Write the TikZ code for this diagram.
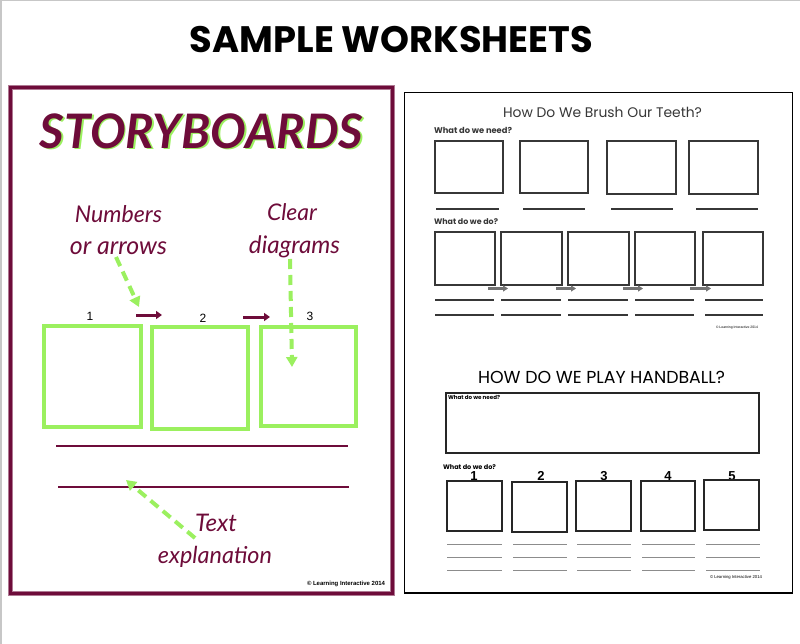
\documentclass[tikz,border=0pt]{standalone}
\usepackage{fontspec}
\usepackage{graphicx}
\setmainfont{Lato}
\newfontfamily\comic{Poppins}
\newfontfamily\hand{Lato}
\newfontfamily\arial{Liberation Sans}
\usetikzlibrary{arrows.meta}
\definecolor{sbmaroon}{RGB}{110,12,58}
\definecolor{sbgreen}{RGB}{155,240,95}
\definecolor{sbgray}{RGB}{55,55,55}
\newcommand{\fw}[2]{\resizebox{#1}{!}{#2}}
\tikzset{
  txt/.style={inner sep=0pt, outer sep=0pt},
  gbox/.style={draw=sbgreen, line width=4.5pt, inner sep=0pt},
  wbox/.style={draw=sbgray, line width=1.3pt, inner sep=0pt},
  hbox/.style={draw=black!85, line width=1.4pt, inner sep=0pt},
  marr/.style={draw=sbmaroon, line width=3pt, -{Triangle[length=6pt,width=8pt]}},
  garr/.style={draw=sbgreen, line width=4pt, dash pattern=on 10pt off 6pt, -{Triangle[length=10pt,width=11pt]}},
  grarr/.style={draw=black!55, line width=3pt, -{Triangle[length=5pt,width=6pt]}},
  mline/.style={draw=sbmaroon, line width=2pt},
  wline/.style={draw=sbgray, line width=1.3pt},
  lline/.style={draw=black!45, line width=0.7pt},
}
\begin{document}
\begin{tikzpicture}[x=1pt,y=-1pt]
\useasboundingbox (0,0) rectangle (800,644);
\fill[white] (0,0) rectangle (800,644);
\draw[black!22, line width=1.5pt] (0.75,644) -- (0.75,0.75) -- (800,0.75);

% title
\node[txt] (title) at (391.5,40) {\fw{403pt}{\comic\bfseries SAMPLE WORKSHEETS}};

% ---------- left panel ----------
\draw[sbmaroon!55, line width=5pt] (10,88) rectangle (392,593);
\draw[sbmaroon, line width=3pt] (10,88) rectangle (392,593);

\node[txt, text=sbgreen] (sbshadow) at (203,132.5) {\fw{323pt}{\hand\bfseries\itshape STORYBOARDS}};
\node[txt, text=sbmaroon] (sb) at (201.5,131) {\fw{323pt}{\hand\bfseries\itshape STORYBOARDS}};

\node[txt, text=sbmaroon] (numbers) at (118.5,214.5) {\fw{87pt}{\hand\itshape Numbers}};
\node[txt, text=sbmaroon] (orarrows) at (118.5,248.5) {\fw{97pt}{\hand\itshape or arrows}};
\node[txt, text=sbmaroon] (clear) at (292,212.5) {\fw{50pt}{\hand\itshape Clear}};
\node[txt, text=sbmaroon] (diagrams) at (294.5,246.5) {\fw{91pt}{\hand\itshape diagrams}};
\node[txt, text=sbmaroon] (text) at (216,522.5) {\fw{42pt}{\hand\itshape Text}};
\node[txt, text=sbmaroon] (explanation) at (215,557) {\fw{114pt}{\hand\itshape explanation}};

\node[txt, font=\arial\fontsize{12}{12}\selectfont] (n1) at (90,316) {1};
\node[txt, font=\arial\fontsize{12}{12}\selectfont] (n2) at (203,318) {2};
\node[txt, font=\arial\fontsize{12}{12}\selectfont] (n3) at (310,316) {3};

\node[gbox, minimum width=97, minimum height=101] (g1) at (92.5,376.5) {};
\node[gbox, minimum width=96, minimum height=102] (g2) at (200,378) {};
\node[gbox, minimum width=95, minimum height=99] (g3) at (308.5,376.5) {};

\coordinate (ma1s) at (136,315); \coordinate (ma1e) at (162,315);
\coordinate (ma2s) at (243,317); \coordinate (ma2e) at (270,317);
\draw[marr] (ma1s) -- (ma1e);
\draw[marr] (ma2s) -- (ma2e);

\coordinate (l1a) at (56,446); \coordinate (l1b) at (348,446);
\coordinate (l2a) at (58,487); \coordinate (l2b) at (349,487);
\draw[mline] (l1a) -- (l1b);
\draw[mline] (l2a) -- (l2b);

\coordinate (ga1s) at (116,257); \coordinate (ga1e) at (139,307);
\draw[garr] (ga1s) -- (ga1e);
\coordinate (ga2s) at (290,259); \coordinate (ga2e) at (292,367);
\draw[garr] (ga2s) -- (ga2e);
\coordinate (ga3s) at (195,538); \coordinate (ga3e) at (126,480);
\draw[garr] (ga3s) -- (ga3e);

\node[txt, anchor=east] (copyL) at (385,584) {\fw{78pt}{\arial\bfseries\textcopyright{} Learning Interactive 2014}};

% ---------- right panel ----------
\draw[black, line width=1.3pt] (404.5,92.5) rectangle (792.5,593);

\node[txt, text=sbgray] (brush) at (602.5,112.5) {\fw{199pt}{\comic How Do We Brush Our Teeth?}};
\node[txt, anchor=west, text=sbgray] (need1) at (434,130.5) {\fw{78pt}{\comic\bfseries What do we need?}};

\node[wbox, minimum width=68, minimum height=52] (b1) at (469,167) {};
\node[wbox, minimum width=68, minimum height=52] (b2) at (554,167) {};
\node[wbox, minimum width=69, minimum height=53] (b3) at (641.5,167.5) {};
\node[wbox, minimum width=69, minimum height=53] (b4) at (723.5,167.5) {};

\foreach \a/\b [count=\i] in {436/499,523/585,611/673,696/758}{
  \coordinate (u\i a) at (\a,209); \coordinate (u\i b) at (\b,209);
  \draw[wline] (u\i a) -- (u\i b);
}

\node[txt, anchor=west, text=sbgray] (do1) at (434,221.5) {\fw{64pt}{\comic\bfseries What do we do?}};

\node[wbox, minimum width=60, minimum height=53] (c1) at (465,258.5) {};
\node[wbox, minimum width=61, minimum height=53] (c2) at (531.5,258.5) {};
\node[wbox, minimum width=61, minimum height=53] (c3) at (598.5,258.5) {};
\node[wbox, minimum width=60, minimum height=53] (c4) at (665,258.5) {};
\node[wbox, minimum width=60, minimum height=53] (c5) at (733,258.5) {};

\foreach \a/\b [count=\i] in {488/508,556/576,623/643,690/711}{
  \coordinate (s\i a) at (\a,288.5); \coordinate (s\i b) at (\b,288.5);
  \draw[grarr] (s\i a) -- (s\i b);
}

\foreach \a/\b [count=\i] in {435/494,501/561,568/628,635/694,705/763}{
  \coordinate (p\i a) at (\a,300); \coordinate (p\i b) at (\b,300);
  \coordinate (q\i a) at (\a,315); \coordinate (q\i b) at (\b,315);
  \draw[wline] (p\i a) -- (p\i b);
  \draw[wline] (q\i a) -- (q\i b);
}

\node[txt, anchor=east] (copyR1) at (758,328) {\fw{42pt}{\arial\textcopyright{} Learning Interactive 2014}};

% handball
\node[txt] (hand) at (601.5,377.5) {\fw{247pt}{\comic HOW DO WE PLAY HANDBALL?}};
\node[hbox, minimum width=313, minimum height=60] (big) at (602.5,423) {};
\node[txt, anchor=west] (need2) at (448,397.5) {\fw{52pt}{\comic\bfseries What do we need?}};
\node[txt, anchor=west] (do2) at (443,467) {\fw{53pt}{\comic\bfseries What do we do?}};

\foreach \x/\n in {474/1,541/2,604/3,668/4,732/5}{
  \node[txt, font=\arial\bfseries\fontsize{13}{13}\selectfont] (h\n) at (\x,476) {\n};
}

\node[hbox, minimum width=55, minimum height=50] (d1) at (474.5,506) {};
\node[hbox, minimum width=55, minimum height=50] (d2) at (539.5,507) {};
\node[hbox, minimum width=55, minimum height=50] (d3) at (603.5,506) {};
\node[hbox, minimum width=54, minimum height=50] (d4) at (668,506) {};
\node[hbox, minimum width=55, minimum height=50] (d5) at (731.5,505) {};

\foreach \a/\b [count=\i] in {447/502,513/567,577/631,642/695,706/760}{
  \foreach \y [count=\j] in {544,557,570}{
    \coordinate (r\i-\j a) at (\a,\y); \coordinate (r\i-\j b) at (\b,\y);
    \draw[lline] (r\i-\j a) -- (r\i-\j b);
  }
}

\node[txt, anchor=east] (copyR2) at (762,577) {\fw{52pt}{\arial\textcopyright{} Learning Interactive 2014}};
\end{tikzpicture}
\end{document}
